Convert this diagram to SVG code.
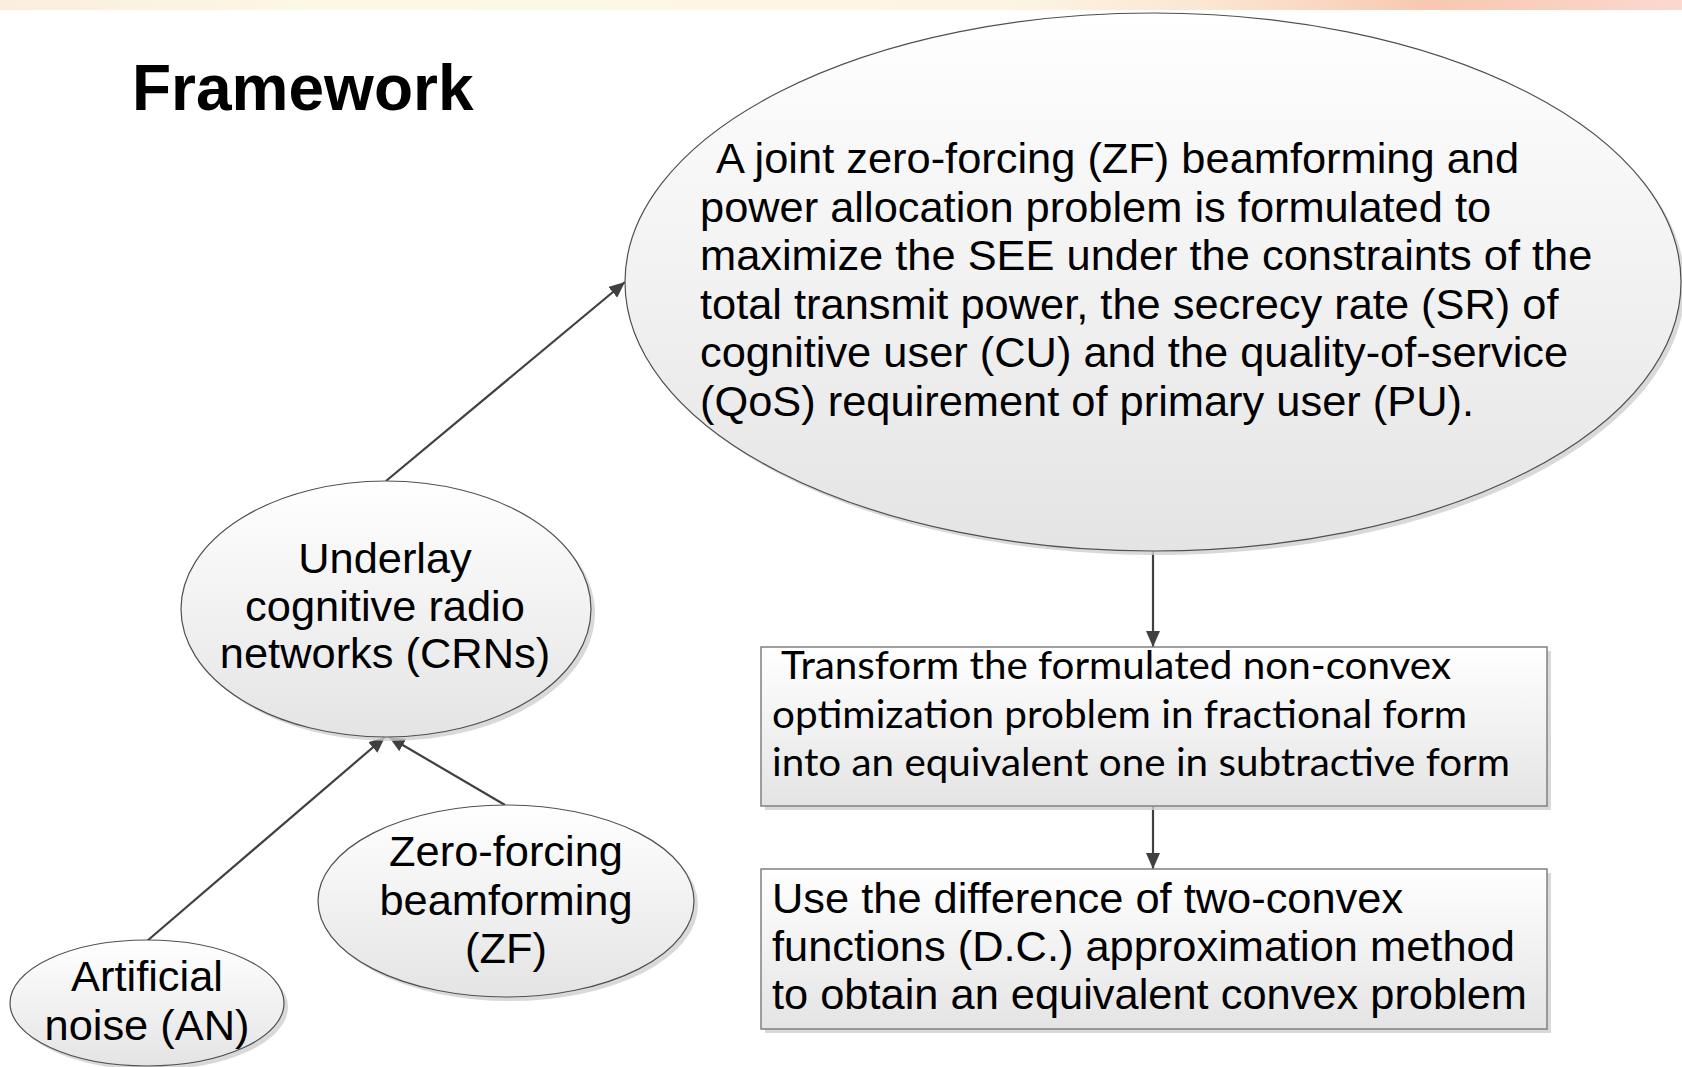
<svg xmlns="http://www.w3.org/2000/svg" width="1682" height="1067" viewBox="0 0 1682 1067">
<defs>
<linearGradient id="band" x1="0" y1="0" x2="1" y2="0">
<stop offset="0" stop-color="#fbeedc"/>
<stop offset="0.2" stop-color="#fdf8e6"/>
<stop offset="0.6" stop-color="#fcf5e2"/>
<stop offset="0.72" stop-color="#fbe6d2"/>
<stop offset="0.85" stop-color="#f8c8b0"/>
<stop offset="1" stop-color="#fbd8d0"/>
</linearGradient>
<linearGradient id="fill" x1="0" y1="0" x2="0" y2="1">
<stop offset="0" stop-color="#ffffff"/>
<stop offset="1" stop-color="#e4e4e4"/>
</linearGradient>
<marker id="arr" markerWidth="18" markerHeight="14" refX="16" refY="7" orient="auto" markerUnits="userSpaceOnUse">
<path d="M0,0 L16,7 L0,14 Z" fill="#404040"/>
</marker>
</defs>
<style>
.shape{fill:url(#fill);stroke:#505050;stroke-width:1.2}
.rect{fill:url(#fill);stroke:#808080;stroke-width:1.5}
.shadow{fill:#cfcfcf;opacity:0.8}
.t{font-family:"Liberation Sans",Arial,sans-serif;font-size:43.4px;fill:#000}
.c{text-anchor:middle}
.cal{font-family:Lato,"Liberation Sans",sans-serif;font-size:38px;fill:#000}
.conn{stroke:#404040;stroke-width:2.2;fill:none;marker-end:url(#arr)}
</style>
<rect x="0" y="0" width="1682" height="10" fill="url(#band)"/>
<text x="132" y="110" font-family="'Liberation Sans',Arial,sans-serif" font-size="64" font-weight="bold" fill="#000">Framework</text>

<g id="connectors">
<line class="conn" x1="386" y1="481" x2="625" y2="282"/>
<line class="conn" x1="147" y1="941" x2="385" y2="737"/>
<line class="conn" x1="505" y1="805" x2="389" y2="737"/>
<line class="conn" x1="1153" y1="551" x2="1153" y2="647"/>
<line class="conn" x1="1153" y1="806" x2="1153" y2="869"/>
</g>

<g id="problem">
<ellipse class="shadow" cx="1157" cy="286" rx="528" ry="269"/>
<ellipse class="shape" cx="1153" cy="282" rx="528" ry="269"/>
<text class="t" x="716" y="173">A joint zero-forcing (ZF) beamforming and</text>
<text class="t" x="700" y="221.5">power allocation problem is formulated to</text>
<text class="t" x="700" y="270">maximize the SEE under the constraints of the</text>
<text class="t" x="700" y="318.5">total transmit power, the secrecy rate (SR) of</text>
<text class="t" x="700" y="367">cognitive user (CU) and the quality-of-service</text>
<text class="t" x="700" y="415.5">(QoS) requirement of primary user (PU).</text>
</g>

<g id="underlay">
<ellipse class="shadow" cx="390" cy="613" rx="205" ry="128"/>
<ellipse class="shape" cx="386" cy="609" rx="205" ry="128"/>
<text class="t c" x="385" y="573">Underlay</text>
<text class="t c" x="385" y="621">cognitive radio</text>
<text class="t c" x="385" y="668">networks (CRNs)</text>
</g>

<g id="zf">
<ellipse class="shadow" cx="510" cy="905" rx="188" ry="96"/>
<ellipse class="shape" cx="506" cy="901" rx="188" ry="96"/>
<text class="t c" x="506" y="866">Zero-forcing</text>
<text class="t c" x="506" y="915">beamforming</text>
<text class="t c" x="506" y="963">(ZF)</text>
</g>

<g id="an">
<ellipse class="shadow" cx="151" cy="1007" rx="137" ry="63"/>
<ellipse class="shape" cx="147" cy="1003" rx="137" ry="63"/>
<text class="t c" x="147" y="991">Artificial</text>
<text class="t c" x="147" y="1040">noise (AN)</text>
</g>

<g id="transform">
<rect class="shadow" x="765" y="651" width="786" height="159"/>
<rect class="rect" x="761" y="647" width="786" height="159"/>
<text class="cal" x="781" y="679" textLength="670" lengthAdjust="spacingAndGlyphs">Transform the formulated non-convex</text>
<text class="cal" x="772" y="728" textLength="695" lengthAdjust="spacingAndGlyphs">optimization problem in fractional form</text>
<text class="cal" x="772" y="776" textLength="738" lengthAdjust="spacingAndGlyphs">into an equivalent one in subtractive form</text>
</g>

<g id="dc">
<rect class="shadow" x="765" y="873" width="786" height="160"/>
<rect class="rect" x="761" y="869" width="786" height="160"/>
<text class="t" x="772" y="913">Use the difference of two-convex</text>
<text class="t" x="772" y="961">functions (D.C.) approximation method</text>
<text class="t" x="772" y="1009">to obtain an equivalent convex problem</text>
</g>
</svg>
